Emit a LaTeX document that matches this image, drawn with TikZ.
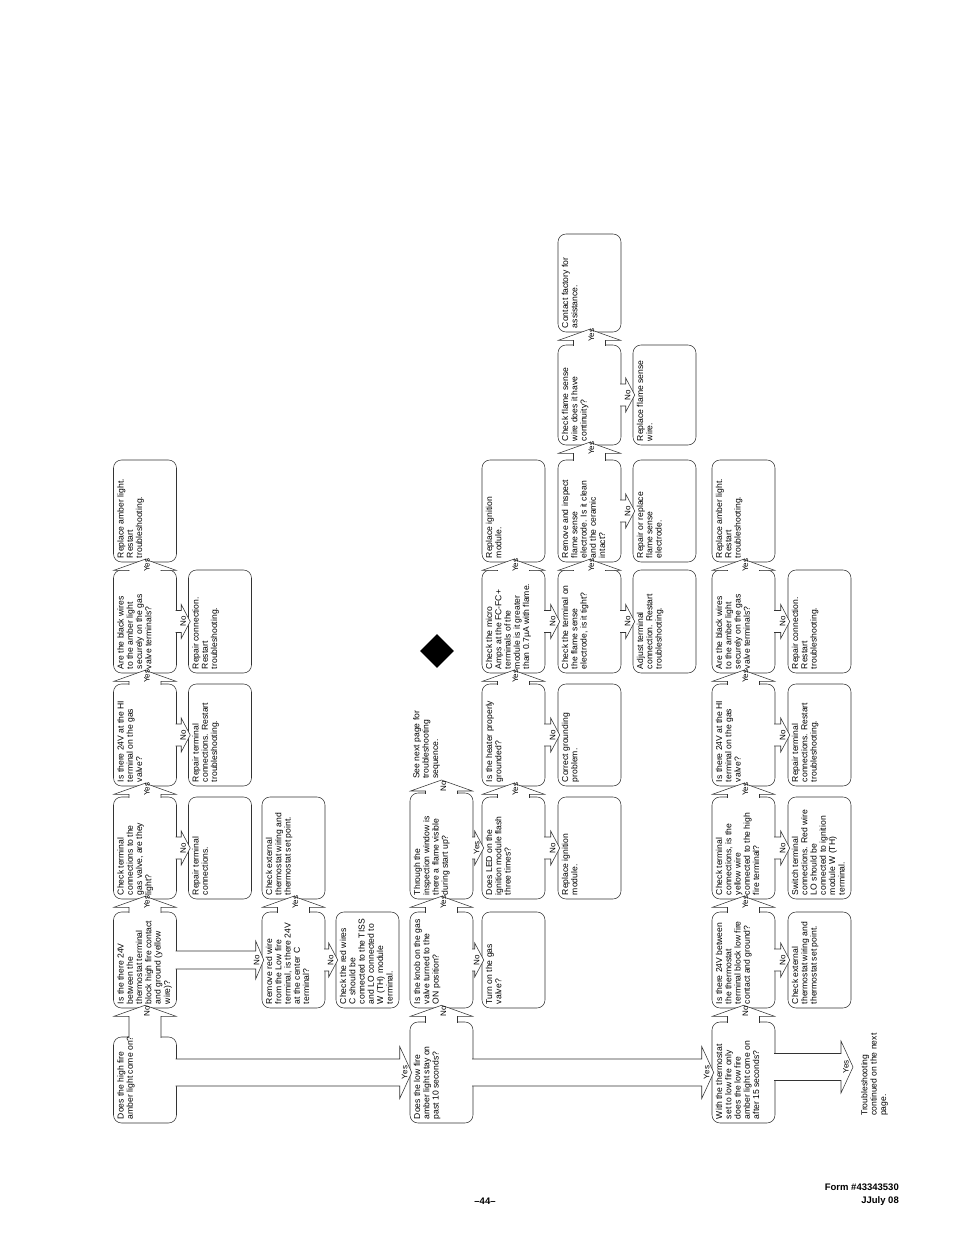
\documentclass[tikz,border=0pt]{standalone}
\usepackage{fontspec}
\setmainfont{Liberation Sans}
\newfontfamily\chartfont{Liberation Sans}
\usetikzlibrary{calc,shapes.geometric}

\tikzset{
  qbox/.style={draw=black!80, line width=0.55pt, rounded corners=8pt, rotate=90,
    minimum height=63pt, inner xsep=4pt, inner ysep=3.5pt,
    font=\chartfont\fontsize{8.6}{9.3}\selectfont},
  barrow/.style={draw=black!80, line width=0.55pt, fill=white},
  ylab/.style={rotate=90, inner sep=0pt, font=\chartfont\fontsize{8}{8}\selectfont},
  note/.style={rotate=90, anchor=north west, align=left, inner sep=0pt,
    font=\chartfont\fontsize{8.6}{9.3}\selectfont},
  foot/.style={inner sep=0pt, font=\bfseries\fontsize{9.5}{11}\selectfont}
}

% box, text set line by line from its top left corner
\newcommand{\qb}[5]{\node[qbox, minimum width=#4pt] (#1) at (#2,#3)
  {\parbox[c][56pt][t]{\dimexpr #4pt-8pt\relax}{\begin{tabular}[t]{@{}l@{}}#5\end{tabular}}};}
% block arrow to the next question (up the page)
\newcommand{\uparr}[3]{\filldraw[barrow] let \p1=(#1), \p2=(#2) in
  (\x2-16,\y1-1.2) -- (\x2-16,\y2-8) -- (\x2-31,\y2-8) -- (\x2,\y2+3)
  -- (\x2+31,\y2-8) -- (\x2+16,\y2-8) -- (\x2+16,\y1-1.2)
  (\x2+2,\y2-3) node[ylab] {#3};}
% block arrow to the side (right on the page): shaft, head, head length
\newcommand{\dnarr}[6]{\filldraw[barrow] let \p1=(#1), \p2=(#2) in
  (\x1-1.2,\y2+#4) -- (\x2-#6,\y2+#4) -- (\x2-#6,\y2+#5) -- (\x2+2,\y2)
  -- (\x2-#6,\y2-#5) -- (\x2-#6,\y2-#4) -- (\x1-1.2,\y2-#4)
  (\x2-5,\y2) node[ylab] {#3};}

\begin{document}
\begin{tikzpicture}[x=1pt, y=-1pt]
\fill[white] (0,0) rectangle (954,1235);
\useasboundingbox (0,0) rectangle (954,1235);

% --- high fire ---
\qb{A1}{145}{1080}{86}{Does the high fire\\amber light come on?}
\qb{A2}{145}{960}{96}{Is the there 24V\\between the\\thermostat terminal\\block high fire contact\\and ground (yellow\\wire)?}
\qb{A3}{145}{848}{102}{Check terminal\\connections to the\\gas valve,  are they\\light?}
\qb{A4}{145}{735}{102}{Is there 24V at the HI\\terminal on the gas\\valve?}
\qb{A5}{145}{621.5}{103}{Are the black wires\\to the amber light\\securely on the gas\\valve terminals?}
\qb{A6}{145}{511}{102}{Replace amber light.\\Restart\\troubleshooting.}
\qb{B3}{220}{848}{102}{Repair terminal\\connections.}
\qb{B4}{220}{735}{102}{Repair terminal\\connections. Restart\\troubleshooting.}
\qb{B5}{220}{621.5}{103}{Repair connection.\\Restart\\troubleshooting.}
\qb{C2}{293.5}{960}{96}{Remove red wire\\from the Low fire\\terminal, is there 24V\\at the center C\\terminal?}
\qb{C3}{293.5}{848}{102}{Check external\\thermostat wiring and\\thermostat set point.}
\qb{D2}{367.5}{960}{96}{Check the red wires\\C should be\\connected to the TISS\\and LO connected to\\W (TH) module\\terminal.}

% --- low fire ---
\qb{L1}{441.5}{1072.5}{101}{Does the low fire\\amber light stay on\\past 10 seconds?}
\qb{L2}{441.5}{960}{96}{Is the knob on the gas\\valve turned to the\\ON position?}
\qb{L3}{441.5}{846}{106}{Through the\\inspection window is\\there a flame visible\\during start up?}
\qb{M2}{513.5}{960}{96}{Turn on the gas\\valve?}
\qb{M3}{513.5}{848}{102}{Does LED on the\\ignition module flash\\three times?}
\qb{M4}{513.5}{735}{102}{Is the heater properly\\grounded?}
\qb{M5}{513.5}{621.5}{103}{Check the micro\\Amps at the FC-FC+\\terminals of the\\module is it greater\\than 0.7µA with flame.}
\qb{M6}{513.5}{511}{102}{Replace ignition\\module.}
\qb{N3}{589.5}{848}{102}{Replace ignition\\module.}
\qb{N4}{589.5}{735}{102}{Correct grounding\\problem.}
\qb{N5}{589.5}{621.5}{103}{Check the terminal on\\the flame sense\\electrode, is it tight?}
\qb{N6}{589.5}{511}{102}{Remove and inspect\\flame sense\\electrode. Is it clean\\and the ceramic\\intact?}
\qb{N7}{589.5}{395}{100}{Check flame sense\\wire does it have\\continuity?}
\qb{N8}{589.5}{283}{98}{Contact factory for\\assistance.}
\qb{P5}{664.5}{621.5}{103}{Adjust terminal\\connection. Restart\\troubleshooting.}
\qb{P6}{664.5}{511}{102}{Repair or replace\\flame sense\\electrode.}
\qb{P7}{664.5}{395}{100}{Replace flame sense\\wire.}
\node[note] (seenext) at (413,779) {See next page for\\troubleshooting\\sequence.};
\coordinate (seetip) at (441.5,783);
\node[diamond, fill=black, inner sep=0pt, minimum size=34pt] (mark) at (437,651) {};

% --- low fire only ---
\qb{W1}{743.5}{1072.5}{101}{With the thermostat\\set to low fire only\\does the low fire\\amber light come on\\after 15 seconds?}
\qb{W2}{743.5}{960}{96}{Is there 24V between\\the thermostat\\terminal block low fire\\contact and ground?}
\qb{W3}{743.5}{848}{102}{Check terminal\\connections, is the\\yellow wire\\connected to the high\\fire terminal?}
\qb{W4}{743.5}{735}{102}{Is there 24V at the HI\\terminal on the gas\\valve?}
\qb{W5}{743.5}{621.5}{103}{Are the black wires\\to the amber light\\securely on the gas\\valve terminals?}
\qb{W6}{743.5}{511}{102}{Replace amber light.\\Restart\\troubleshooting.}
\qb{X2}{819.5}{960}{96}{Check external\\thermostat wiring and\\thermostat set point.}
\qb{X3}{819.5}{848}{102}{Switch terminal\\connections. Red wire\\LO should be\\connected to ignition\\module W (TH)\\terminal.}
\qb{X4}{819.5}{735}{102}{Repair terminal\\connections. Restart\\troubleshooting.}
\qb{X5}{819.5}{621.5}{103}{Repair connection.\\Restart\\troubleshooting.}
\node[note] (tcont) at (861,1116) {Troubleshooting\\continued on the next\\page.};
\coordinate (tcontip) at (851,1067);

% --- arrows ---
\uparr{A1.east}{A2.west}{No}
\uparr{A2.east}{A3.west}{Yes}
\uparr{A3.east}{A4.west}{Yes}
\uparr{A4.east}{A5.west}{Yes}
\uparr{A5.east}{A6.west}{Yes}
\dnarr{A3.south}{B3.north}{No}{11}{17}{7}
\dnarr{A4.south}{B4.north}{No}{11}{17}{7}
\dnarr{A5.south}{B5.north}{No}{11}{17}{7}
\dnarr{A2.south}{C2.north}{No}{9}{19}{6}
\uparr{C2.east}{C3.west}{Yes}
\dnarr{C2.south}{D2.north}{No}{11}{17}{7}
\dnarr{A1.south}{L1.north}{Yes}{13.5}{26}{10}

\uparr{L1.east}{L2.west}{No}
\uparr{L2.east}{L3.west}{Yes}
\uparr{L3.east}{seetip}{No}
\dnarr{L2.south}{M2.north}{No}{11}{17}{7}
\dnarr{L3.south}{M3.north}{Yes}{11}{17}{7}
\uparr{M3.east}{M4.west}{Yes}
\uparr{M4.east}{M5.west}{Yes}
\uparr{M5.east}{M6.west}{Yes}
\dnarr{M3.south}{N3.north}{No}{11}{17}{7}
\dnarr{M4.south}{N4.north}{No}{11}{17}{7}
\dnarr{M5.south}{N5.north}{No}{11}{17}{7}
\uparr{N5.east}{N6.west}{Yes}
\uparr{N6.east}{N7.west}{Yes}
\uparr{N7.east}{N8.west}{Yes}
\dnarr{N5.south}{P5.north}{No}{11}{17}{7}
\dnarr{N6.south}{P6.north}{No}{11}{17}{7}
\dnarr{N7.south}{P7.north}{No}{11}{17}{7}
\dnarr{L1.south}{W1.north}{Yes}{13.5}{26}{10}

\uparr{W1.east}{W2.west}{No}
\uparr{W2.east}{W3.west}{Yes}
\uparr{W3.east}{W4.west}{Yes}
\uparr{W4.east}{W5.west}{Yes}
\uparr{W5.east}{W6.west}{Yes}
\dnarr{W2.south}{X2.north}{No}{11}{17}{7}
\dnarr{W3.south}{X3.north}{No}{11}{17}{7}
\dnarr{W4.south}{X4.north}{No}{11}{17}{7}
\dnarr{W5.south}{X5.north}{No}{11}{17}{7}
\dnarr{W1.south}{tcontip}{Yes}{13.5}{26}{10}

% --- page footer ---
\node[foot, anchor=east] (formno) at (899,1187) {Form \#43343530};
\node[foot, anchor=east] (formdate) at (899,1201) {JJuly 08};
\node[foot] (pageno) at (485,1201) {–44–};
\end{tikzpicture}
\end{document}
